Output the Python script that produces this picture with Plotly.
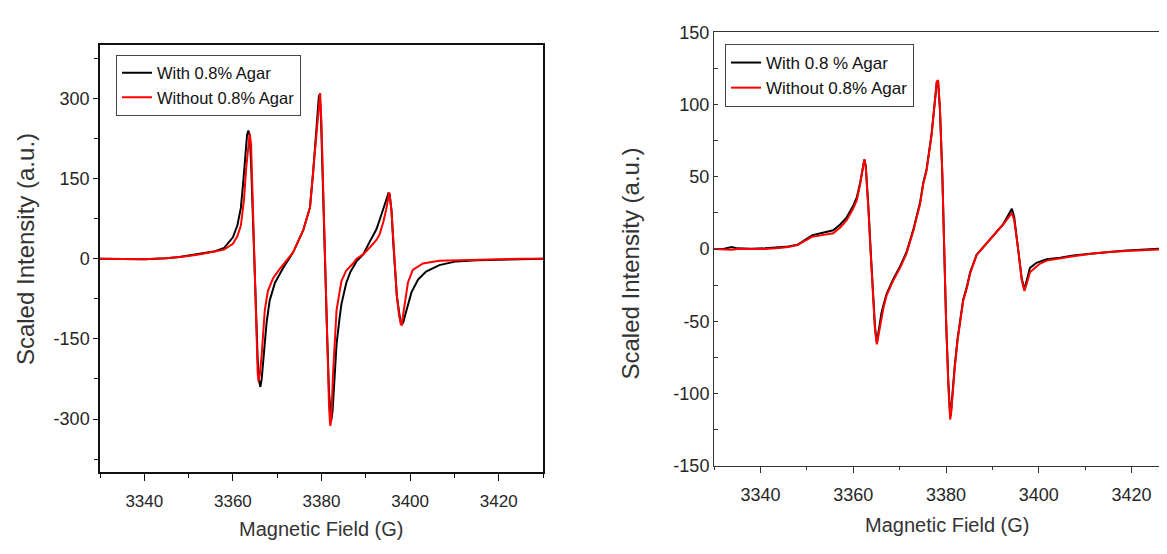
import plotly.graph_objects as go

# Painel esquerdo: campo (G) e intensidade escalada
campo_esq_com = [3330, 3335, 3340, 3345, 3348, 3350, 3353, 3356, 3358, 3360, 3361, 3361.8, 3362.4, 3362.9,
                 3363.2, 3363.5, 3363.8, 3364.1, 3364.5, 3364.8, 3365.2, 3365.6, 3365.9, 3366.2, 3366.5,
                 3366.8, 3367.2, 3367.6, 3368.3, 3369.5, 3371.3, 3373.6, 3375.9, 3377.4, 3378.1, 3378.6,
                 3379.0, 3379.4, 3379.6, 3379.9, 3380.2, 3380.5, 3380.9, 3381.3, 3381.7, 3382.0, 3382.2,
                 3382.5, 3382.8, 3383.4, 3384.1, 3384.5, 3385.6, 3386.5, 3387.9, 3389.4, 3390.9, 3392.4,
                 3393.1, 3394.0, 3394.7, 3395.1, 3395.4, 3395.8, 3396.2, 3396.6, 3397.0, 3397.6, 3397.9,
                 3398.2, 3398.5, 3398.8, 3399.5, 3400.3, 3401.8, 3403.6, 3406.6, 3410.4, 3415, 3420, 3425, 3430]
inten_esq_com = [0, 0, -1, 1, 3, 6, 10, 14, 20, 40, 62, 95, 150, 205,
                 232, 240, 230, 180, 80, -20, -120, -190, -228, -240, -225,
                 -200, -160, -120, -78, -45, -18, 12, 54, 96, 160, 215,
                 270, 303, 308, 260, 170, 70, -36, -150, -250, -295, -303,
                 -285, -240, -160, -110, -85, -45, -25, -5, 8, 32, 55,
                 72, 95, 115, 122, 120, 90, 30, -20, -69, -105, -118,
                 -123, -118, -108, -85, -63, -39, -24, -12, -5, -3, -2, -1, 0]

campo_esq_sem = [3330, 3335, 3340, 3345, 3348, 3350, 3353, 3356, 3358, 3360, 3361, 3361.8, 3362.5, 3363.0,
                 3363.5, 3363.8, 3364.1, 3364.4, 3364.7, 3365.0, 3365.3, 3365.6, 3365.8, 3366.1, 3366.5,
                 3367.2, 3367.9, 3369.1, 3370.5, 3371.3, 3373.6, 3375.9, 3377.4, 3378.1, 3378.9, 3379.4,
                 3379.7, 3380.0, 3380.3, 3380.6, 3380.9, 3381.3, 3381.7, 3381.9, 3382.0, 3382.2, 3382.6,
                 3383.4, 3384.5, 3385.6, 3387.1, 3387.9, 3388.6, 3389.4, 3390.9, 3392.4, 3393.1, 3394.0,
                 3394.6, 3395.0, 3395.3, 3395.8, 3396.2, 3396.6, 3397.0, 3397.5, 3397.9, 3398.1, 3398.4,
                 3398.8, 3399.5, 3400.6, 3402.9, 3406.6, 3414.2, 3420, 3425, 3430]
inten_esq_sem = [0, 0, -1, 1, 3, 5, 9, 13, 17, 28, 42, 62, 110, 170,
                 220, 234, 215, 130, 30, -70, -160, -215, -230, -215, -180,
                 -96, -60, -36, -20, -12, 12, 54, 96, 162, 240, 295,
                 310, 250, 150, 50, -36, -156, -276, -305, -313, -300, -216,
                 -96, -42, -22, -9, 0, 3, 8, 21, 35, 45, 70,
                 92, 115, 124, 90, 30, -20, -69, -105, -123, -124, -105,
                 -81, -45, -21, -9, -4, -2, -1, 0, 0]

# Painel direito
campo_dir = [3330, 3332, 3333.8, 3335, 3338, 3341, 3344, 3346, 3348, 3349.5, 3351.1, 3353, 3355.7, 3357.2,
             3358.6, 3360, 3360.8, 3361.5, 3362.0, 3362.4, 3362.7, 3362.9, 3363.3, 3363.8, 3364.2, 3364.7,
             3365.1, 3365.6, 3366.1, 3366.5, 3367.2, 3367.9, 3368.6, 3370.1, 3371.5, 3373.0, 3374.4, 3375.1,
             3375.8, 3376.9, 3377.6, 3378.0, 3378.3, 3378.7, 3379.2, 3379.6, 3380.0, 3380.5, 3380.9, 3381.1,
             3381.4, 3381.9, 3382.5, 3383.0, 3383.7, 3384.5, 3385.2, 3386.6, 3388.8, 3390.2, 3392.3, 3393.5,
             3394.2, 3394.7, 3395.2, 3395.6, 3396.3, 3396.9, 3397.4, 3398.1, 3399.5, 3400.3, 3401.7, 3404.6,
             3407.4, 3411.7, 3415, 3418.9, 3422, 3426.1, 3428, 3430]
inten_dir_com = [0, 0, 1.5, 0.5, 0.3, 0.5, 1.3, 1.8, 3, 6, 9.5, 11, 13, 17,
                 22, 30, 36, 46, 56, 62, 58, 50, 28, -3, -30, -54,
                 -65, -54, -44, -39, -31, -26, -21, -12, -2, 14, 32, 46,
                 55, 80, 104, 115, 116, 96, 52, -3, -48, -92, -116, -112,
                 -99, -80, -62, -52, -35, -26, -16, -4, 4, 9, 17, 24,
                 28, 22, 10, 0, -20, -28, -22, -13, -9.5, -8.5, -7, -6,
                 -4.5, -3, -2, -1, -0.5, 0.3, -0.3, 0]
inten_dir_sem = [0, -0.3, -0.5, 0, 0.2, 0, 0.8, 1.5, 2.8, 5.5, 8.5, 9.5, 11, 15,
                 20, 28, 34, 45, 55, 62, 57, 48, 26, -5, -32, -56,
                 -66, -57, -46, -41, -32, -27, -22, -13, -3, 13, 31, 45,
                 54, 79, 104, 116, 117, 97, 53, -2, -47, -94, -118, -114,
                 -101, -82, -63, -53, -36, -27, -17, -4, 4, 9, 17, 22,
                 25, 20, 9, -1, -21, -29, -24, -16, -12, -10, -8, -6.4,
                 -5, -3.1, -2, -1.3, -0.8, 0.3, 0, 0]

# Rotulos dos eixos (hifen comum no lugar do sinal de menos)
ticks_x = [3340, 3360, 3380, 3400, 3420]
ticks_y_esq = [-300, -150, 0, 150, 300]
rotulos_y_esq = ["-300", "-150", "0", "150", "300"]
ticks_y_dir = [-150, -100, -50, 0, 50, 100, 150]
rotulos_y_dir = ["-150", "-100", "-50", "0", "50", "100", "150"]

fonte = "Liberation Sans, Arial"

# A pagina tem margem de 8px no body: a figura cabe exatamente na janela
OFF = 8
W, H = 1167 - 2 * OFF, 554 - 2 * OFF


def px_x(p):
    return (p - OFF) / W


def px_y(p):
    return (H - (p - OFF)) / H


fig = go.Figure()

# Curvas do painel esquerdo
fig.add_trace(go.Scatter(x=campo_esq_com, y=inten_esq_com, mode="lines", name="With 0.8% Agar",
                         line=dict(color="#000000", width=2), xaxis="x", yaxis="y", legend="legend"))
fig.add_trace(go.Scatter(x=campo_esq_sem, y=inten_esq_sem, mode="lines", name="Without 0.8% Agar",
                         line=dict(color="#ff0000", width=2), xaxis="x", yaxis="y", legend="legend"))

# Curvas do painel direito
fig.add_trace(go.Scatter(x=campo_dir, y=inten_dir_com, mode="lines", name="With 0.8 % Agar",
                         line=dict(color="#000000", width=2), xaxis="x2", yaxis="y2", legend="legend2"))
fig.add_trace(go.Scatter(x=campo_dir, y=inten_dir_sem, mode="lines", name="Without 0.8% Agar",
                         line=dict(color="#ff0000", width=2), xaxis="x2", yaxis="y2", legend="legend2"))

# fim do eixo x direito na borda da janela (a imagem original corta o painel)
fim_x_dir = 3330 + (1167 - OFF - 714) / 4.64

fig.update_layout(
    width=W, height=H,
    margin=dict(l=0, r=0, t=0, b=0),
    paper_bgcolor="white", plot_bgcolor="white",
    xaxis=dict(domain=[px_x(100), px_x(543)], range=[3330, 3430], anchor="y",
               showgrid=False, zeroline=False, showline=True, mirror=True, linecolor="#111", linewidth=1.5,
               ticks="outside", ticklen=7, tickcolor="#111", tickvals=ticks_x, ticklabelstandoff=5,
               tickfont=dict(family=fonte, size=17, color="#262626"),
               minor=dict(ticks="outside", ticklen=4, dtick=10, tick0=3330, tickcolor="#111")),
    yaxis=dict(domain=[px_y(480), px_y(36)], range=[-400, 400], anchor="x",
               showgrid=False, zeroline=False, showline=True, mirror=True, linecolor="#111", linewidth=1.5,
               ticks="outside", ticklen=5, tickcolor="#111", tickvals=ticks_y_esq, ticktext=rotulos_y_esq,
               tickfont=dict(family=fonte, size=18, color="#262626"),
               minor=dict(ticks="outside", ticklen=4, dtick=75, tick0=0, tickcolor="#111")),
    xaxis2=dict(domain=[px_x(714), 1.0], range=[3330, fim_x_dir], anchor="y2",
                showgrid=False, zeroline=False, showline=True, mirror=True, linecolor="#333", linewidth=1,
                ticks="outside", ticklen=6, tickcolor="#333", tickvals=ticks_x, ticklabelstandoff=7,
                tickfont=dict(family=fonte, size=18, color="#262626"),
                minor=dict(ticks="outside", ticklen=3, dtick=10, tick0=3330, tickcolor="#333")),
    yaxis2=dict(domain=[px_y(473), px_y(23)], range=[-150, 150], anchor="x2",
                showgrid=False, zeroline=False, showline=True, mirror=False, linecolor="#333", linewidth=1,
                ticks="inside", ticklen=4, tickcolor="#333", tickvals=ticks_y_dir, ticktext=rotulos_y_dir,
                tickfont=dict(family=fonte, size=18, color="#262626"),
                minor=dict(ticks="inside", ticklen=4, dtick=25, tick0=0, tickcolor="#333")),
    legend=dict(x=px_x(116), y=px_y(46), xanchor="left", yanchor="top",
                bgcolor="white", bordercolor="#444", borderwidth=1,
                font=dict(family=fonte, size=16.5, color="#111"), tracegroupgap=0),
    legend2=dict(x=px_x(725), y=px_y(35), xanchor="left", yanchor="top",
                 bgcolor="white", bordercolor="#444", borderwidth=1,
                 font=dict(family=fonte, size=17, color="#111"), tracegroupgap=0),
    showlegend=True,
)

# Titulos dos eixos como anotacoes para posicionar igual a figura
titulos = [
    dict(text="Magnetic Field (G)", x=px_x(321.5), y=px_y(539), size=20, textangle=0),
    dict(text="Magnetic Field (G)", x=px_x(947.5), y=px_y(535), size=20, textangle=0),
    dict(text="Scaled Intensity (a.u.)", x=px_x(25), y=px_y(248), size=24, textangle=-90),
    dict(text="Scaled Intensity (a.u.)", x=px_x(631), y=px_y(263), size=24, textangle=-90),
]
for t in titulos:
    fig.add_annotation(xref="paper", yref="paper", xanchor="center", yanchor="middle", showarrow=False,
                       text=t["text"], x=t["x"], y=t["y"], textangle=t["textangle"],
                       font=dict(family=fonte, size=t["size"], color="#333"))

fig.write_html("out.html")
